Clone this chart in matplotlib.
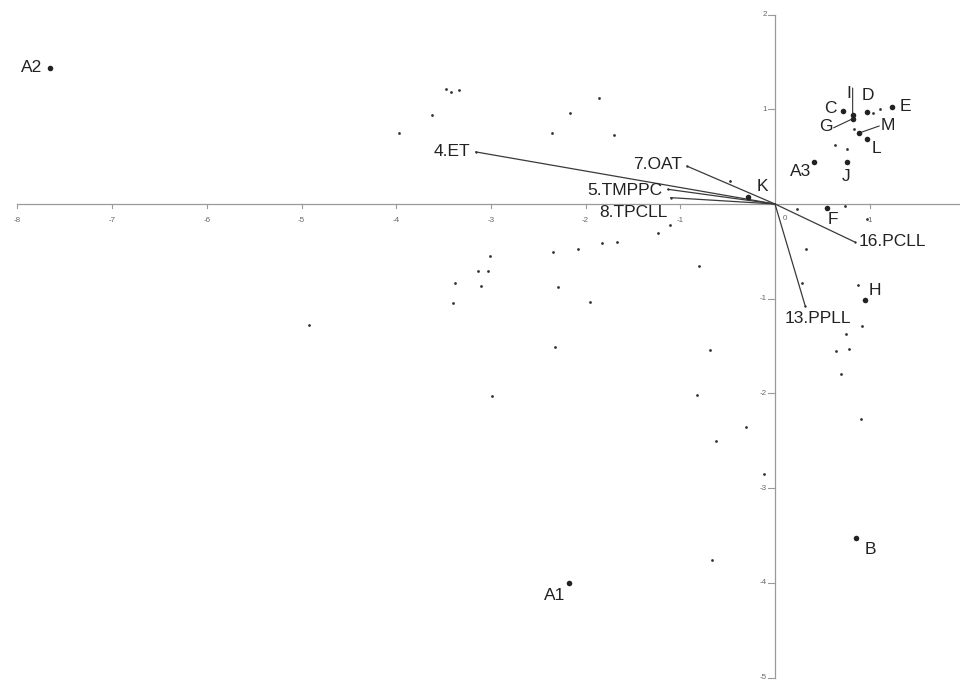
import matplotlib
matplotlib.use("Agg")
import matplotlib.pyplot as plt

plt.rcParams['font.family'] = ['Liberation Sans', 'DejaVu Sans']

# Labelled observations (PCA scores)
obs_names = ["A2", "A1", "A3", "B", "H", "F", "K", "C", "D", "E", "I", "G", "M", "L", "J"]
obs_x = [-7.66, -2.18, 0.415, 0.86, 0.95, 0.55, -0.29, 0.72, 0.97, 1.24, 0.82, 0.82, 0.89, 0.975, 0.757]
obs_y = [1.44, -4.00, 0.445, -3.53, -1.01, -0.045, 0.07, 0.98, 0.975, 1.02, 0.94, 0.90, 0.75, 0.69, 0.445]

# Unlabelled observations
pts_x = [-3.47, -3.42, -3.34, -3.62, -3.97, -1.86, -2.17, -2.35, -1.70, -0.48,
         -1.11, -1.24, -1.67, -1.83, -2.08, -2.34, -3.01, -0.80, -3.14, -3.03,
         -3.38, -3.10, -3.40, -2.29, -1.95, -4.92, -2.32, -2.99, -0.69, -0.82,
         -0.31, -0.62, -0.12, -0.66,
         0.235, 0.74, 0.97, 0.33, 0.29, 0.88, 0.92, 0.75, 0.64, 0.785, 0.70, 0.905,
         1.03, 1.11, 0.834, 0.63, 0.757]
pts_y = [1.21, 1.185, 1.20, 0.94, 0.75, 1.12, 0.96, 0.75, 0.73, 0.24,
         -0.22, -0.31, -0.40, -0.415, -0.475, -0.51, -0.55, -0.65, -0.71, -0.71,
         -0.83, -0.865, -1.05, -0.88, -1.04, -1.28, -1.51, -2.03, -1.54, -2.02,
         -2.36, -2.50, -2.85, -3.76,
         -0.05, -0.02, -0.16, -0.475, -0.83, -0.855, -1.285, -1.37, -1.55, -1.53, -1.79, -2.27,
         0.965, 1.0, 0.79, 0.62, 0.58]

# Variable loadings (biplot vectors)
var_names = ["4.ET", "7.OAT", "5.TMPPC", "8.TPCLL", "16.PCLL", "13.PPLL"]
var_x = [-3.16, -0.93, -1.13, -1.10, 0.84, 0.32]
var_y = [0.55, 0.40, 0.155, 0.067, -0.40, -1.08]

x_ticks = [-8, -7, -6, -5, -4, -3, -2, -1, 0, 1]
y_ticks = [2, 1, -1, -2, -3, -4, -5]

# label placement: offset in pixels and horizontal alignment
obs_offsets = {
    "A2": (-7, 0, "right"), "A1": (-14, -13, "center"),
    "A3": (-14, -10, "center"), "B": (14, -11, "center"),
    "H": (10, 9, "center"), "F": (6, -11, "center"),
    "K": (15, 11, "center"), "C": (-13, 3, "center"),
    "D": (1, 16, "center"), "E": (13, 1, "center"),
    "I": (-4, 21, "center"), "G": (-27, -8, "center"),
    "M": (29, 7, "center"), "L": (9, -10, "center"),
    "J": (-1, -15, "center"),
}
# leader lines from the point towards its label (pixel offset of far end)
leaders = {"I": (0, 27), "G": (-19, -9), "M": (20, 7)}

var_offsets = {
    "4.ET": (-5, 0, "right"), "7.OAT": (-5, 2, "right"),
    "5.TMPPC": (-6, -1, "right"), "8.TPCLL": (-3, -15, "right"),
    "16.PCLL": (4, 0, "left"), "13.PPLL": (13, -12, "center"),
}

fig = plt.figure(figsize=(9.6, 6.83), dpi=100)
ax = fig.add_axes([0, 0, 1, 1])
scale = 94.7
ax.set_xlim(-775 / scale, (960 - 775) / scale)
ax.set_ylim((204 - 683) / scale, 204 / scale)
ax.axis("off")

axis_col = "#9a9a9a"
tick_col = "#666666"
px = 1 / scale

# axes through the origin
ax.plot([-8, ax.get_xlim()[1]], [0, 0], color=axis_col, lw=0.9, zorder=1)
ax.plot([0, 0], [-5, 2], color=axis_col, lw=0.9, zorder=1)
for t in x_ticks:
    ax.plot([t, t], [0, -4 * px], color=axis_col, lw=0.8, zorder=1)
    if t == 0:
        ax.text(t + 10 * px, -14 * px, "0", fontsize=5.8, color=tick_col, ha="center", va="center")
    else:
        ax.text(t, -16 * px, str(t), fontsize=5.8, color=tick_col, ha="center", va="center")
for t in y_ticks:
    ax.plot([0, -7 * px], [t, t], color=axis_col, lw=0.8, zorder=1)
    ax.text(-8 * px, t, str(t), fontsize=5.8, color=tick_col, ha="right", va="center")

# vectors
for name, vx, vy in zip(var_names, var_x, var_y):
    ax.plot([0, vx], [0, vy], color="#3a3a3a", lw=0.9, zorder=2)
    ax.scatter([vx], [vy], s=3, color="#333333", zorder=3, linewidths=0)
    dx, dy, ha = var_offsets[name]
    ax.annotate(name, (vx, vy), xytext=(dx, dy), textcoords="offset pixels",
                fontsize=12.5, color="#222222", ha=ha, va="center")

# unlabelled points
ax.scatter(pts_x, pts_y, s=4, color="#333333", zorder=3, linewidths=0)

# labelled points
ax.scatter(obs_x, obs_y, s=16, color="#222222", zorder=4, linewidths=0)
for name, ox, oy in zip(obs_names, obs_x, obs_y):
    dx, dy, ha = obs_offsets[name]
    ax.annotate(name, (ox, oy), xytext=(dx, dy), textcoords="offset pixels",
                fontsize=12.5, color="#222222", ha=ha, va="center")
    if name in leaders:
        lx, ly = leaders[name]
        ax.annotate("", (ox, oy), xytext=(lx, ly), textcoords="offset pixels",
                    arrowprops=dict(arrowstyle="-", color="#333333", lw=0.8,
                                    shrinkA=0, shrinkB=1))

fig.savefig("out.png", dpi=100)
